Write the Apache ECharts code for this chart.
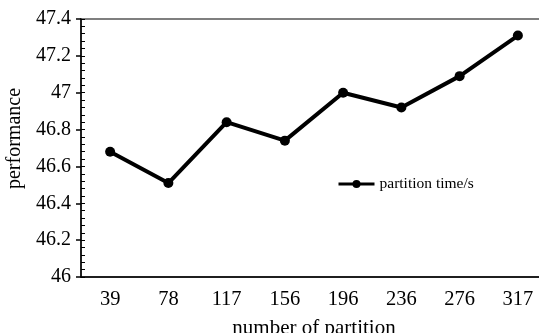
<!DOCTYPE html>
<html><head><meta charset="utf-8">
<script src="https://cdn.jsdelivr.net/npm/echarts@6/dist/echarts.min.js"></script>
<style>html,body{margin:0;padding:0;background:#fff}#c{width:539px;height:333px}</style>
</head><body><div id="c"></div>
<script>
var categories = ['39','78','117','156','196','236','276','317'];
var partitionTime = [46.68, 46.51, 46.84, 46.74, 47.00, 46.92, 47.09, 47.31];
var seriesName = 'partition time/s';
var xName = 'number of partition';
var yName = 'performance';

var FONT = '"Liberation Serif", "Times New Roman", serif';
var chart = echarts.init(document.getElementById('c'), null, {renderer:'canvas'});
chart.setOption({
  animation: false,
  backgroundColor: '#fff',
  grid: {left: 81, top: 19, width: 466, height: 258, outerBoundsMode: 'none', containLabel: false,
    show: true, borderColor: '#555', borderWidth: 1.5, backgroundColor: 'transparent'},
  legend: {
    data: [seriesName], left: 337, top: 176, padding: 0, itemWidth: 36, itemHeight: 10, itemGap: 5,
    lineStyle: {width: 3, color: '#000'},
    textStyle: {fontFamily: FONT, fontSize: 15.5, color: '#000'}
  },
  xAxis: {
    type: 'category', data: categories, boundaryGap: true,
    name: xName, nameLocation: 'middle', nameGap: 41,
    nameTextStyle: {fontFamily: FONT, fontSize: 21, color: '#000'},
    axisLine: {lineStyle: {color: '#000', width: 1.5}},
    axisTick: {inside: true, length: 5, lineStyle: {color: '#000', width: 1.5}},
    axisLabel: {fontFamily: FONT, fontSize: 20.5, color: '#000', margin: 12}
  },
  yAxis: [{
    type: 'value', min: 46, max: 47.4, interval: 0.2,
    name: yName, nameLocation: 'middle', nameGap: 53,
    nameTextStyle: {fontFamily: FONT, fontSize: 20, color: '#000', padding: [0, 0, 0, 19]},
    axisLine: {show: true, lineStyle: {color: '#000', width: 1.5}},
    axisTick: {show: true, inside: false, length: 5, lineStyle: {color: '#000', width: 1.5}},
    axisLabel: {fontFamily: FONT, fontSize: 20, color: '#000', margin: 10,
      formatter: function(v){ return String(Math.round(v*10)/10); }},
    splitLine: {show: false}
  }, {
    type: 'value', min: 46, max: 47.4, interval: 0.04, position: 'left', offset: 0,
    axisLine: {show: false},
    axisTick: {show: true, inside: true, length: 4, lineStyle: {color: '#000', width: 1}},
    axisLabel: {show: false},
    splitLine: {show: false}
  }],
  series: [{
    name: seriesName, type: 'line', data: partitionTime, yAxisIndex: 0,
    symbol: 'circle', symbolSize: 10,
    lineStyle: {color: '#000', width: 4},
    itemStyle: {color: '#000'}
  }]
});
</script></body></html>
